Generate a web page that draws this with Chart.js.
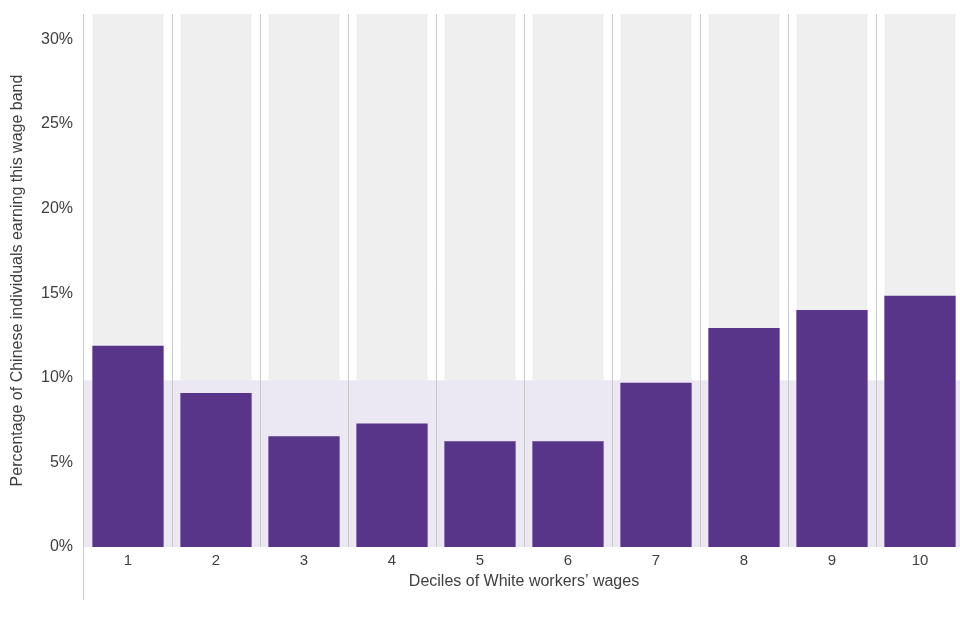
<!DOCTYPE html>
<html>
<head>
<meta charset="utf-8">
<script src="https://cdn.jsdelivr.net/npm/chart.js@4/dist/chart.umd.min.js"></script>
<style>
	html, body { margin: 0; padding: 0; background: #fff; overflow: hidden; }
	#wrap { width: 964px; height: 640px; }
</style>
</head>
<body>
<div id="wrap"><canvas id="chart"></canvas></div>
<script>
// **DATOS**
const deciles = ['1', '2', '3', '4', '5', '6', '7', '8', '9', '10'];
const chineseShare = [11.9, 9.1, 6.55, 7.3, 6.25, 6.25, 9.7, 12.95, 14.0, 14.85];
const yTicks = [0, 5, 10, 15, 20, 25, 30];
const yMax = 31.5;
const bandLevel = 9.85;

const purple = '#59358a';
const backdropGrey = '#efefef';
const bandColor = '#ebe7f3';
const lineGrey = '#c8c8c8';
const textColor = '#404040';

/**
 * Dibuja la franja de referencia, los separadores y la línea del eje.
 */
const bandPlugin = {
	id: 'band',
	beforeDatasetDraw(chart, args) {
		if (args.index !== 0) return;
		const { ctx, chartArea, scales } = chart;
		const top = scales.y.getPixelForValue(bandLevel);
		const bottom = scales.y.getPixelForValue(0);
		ctx.save();
		ctx.fillStyle = bandColor;
		ctx.fillRect(chartArea.left, top, chartArea.right - chartArea.left, bottom - top);

		// separadores entre deciles
		ctx.strokeStyle = lineGrey;
		ctx.lineWidth = 1;
		for (let i = 1; i < deciles.length; i++) {
			const x = Math.round((scales.x.getPixelForTick(i - 1) + scales.x.getPixelForTick(i)) / 2) + 0.5;
			ctx.beginPath();
			ctx.moveTo(x, chartArea.top);
			ctx.lineTo(x, bottom);
			ctx.stroke();
		}

		// eje vertical, prolongado por debajo
		const x0 = Math.round(chartArea.left) - 0.5;
		ctx.beginPath();
		ctx.moveTo(x0, chartArea.top);
		ctx.lineTo(x0, chartArea.bottom + 53);
		ctx.stroke();
		ctx.restore();
	}
};

function init() {
	Chart.defaults.font.family = '"Liberation Sans", Arial, sans-serif';
	Chart.defaults.color = textColor;

	new Chart(document.getElementById('chart'), {
		type: 'bar',
		data: {
			labels: deciles,
			datasets: [
				{
					data: chineseShare,
					backgroundColor: purple,
				},
				{
					data: deciles.map(() => yMax),
					backgroundColor: backdropGrey,
				},
			],
		},
		options: {
			responsive: true,
			maintainAspectRatio: false,
			animation: false,
			grouped: false,
			barPercentage: 0.81,
			categoryPercentage: 1,
			layout: { padding: { top: 14, left: 0, right: 0, bottom: 49 } },
			plugins: { legend: { display: false }, tooltip: { enabled: false } },
			scales: {
				x: {
					grid: { display: false, drawTicks: false },
					border: { display: false },
					ticks: { padding: 5, font: { size: 15 }, color: textColor },
					title: {
						display: true,
						text: 'Deciles of White workers’ wages',
						font: { size: 16 },
						color: textColor,
						padding: { top: 2, bottom: 0 },
					},
					afterFit: s => { s.height = 44; },
				},
				y: {
					min: 0,
					max: yMax,
					grid: { display: false },
					border: { display: false },
					afterBuildTicks: s => { s.ticks = yTicks.map(v => ({ value: v })); },
					ticks: {
						padding: 3,
						font: { size: 16 },
						color: textColor,
						callback: v => v + '%',
					},
					title: {
						display: true,
						text: 'Percentage of Chinese individuals earning this wage band',
						font: { size: 16 },
						color: textColor,
						padding: { top: 8, bottom: 0 },
					},
					afterFit: s => { s.width = 84; },
				},
			},
		},
		plugins: [bandPlugin],
	});
}

document.addEventListener('DOMContentLoaded', init);
</script>
</body>
</html>
